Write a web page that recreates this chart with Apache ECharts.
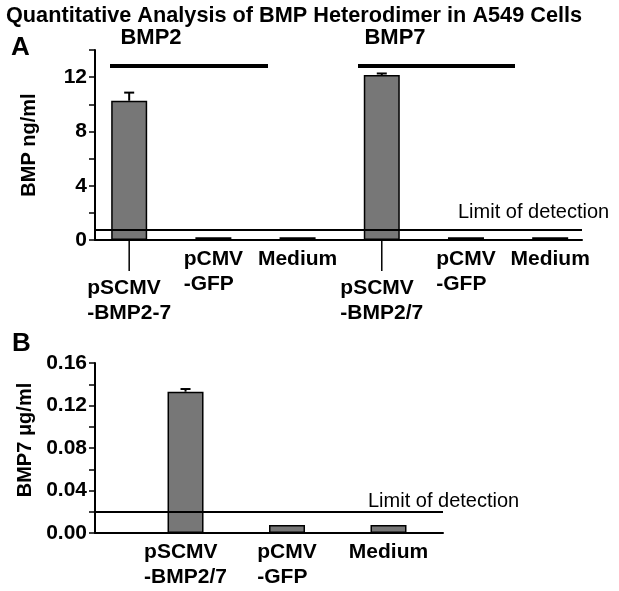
<!DOCTYPE html>
<html><head><meta charset="utf-8">
<script src="https://cdn.jsdelivr.net/npm/echarts@6/dist/echarts.min.js"></script>
<style>html,body{margin:0;padding:0;background:#fff}#c{width:619px;height:591px}</style>
</head><body><div id="c"></div>
<script>
// ---- data ----
const titleText = 'Quantitative Analysis of BMP Heterodimer in A549 Cells';
const catsA = ['pSCMV\n-BMP2-7', 'pCMV\n-GFP', 'Medium', 'pSCMV\n-BMP2/7', 'pCMV\n-GFP', 'Medium'];
const valsA = [10.26, 0.2, 0.2, 12.15, 0.2, 0.2];
const errA = [0.6, 0, 0, 0.12, 0, 0];
const limitA = 0.75;
const ticksA = [0, 4, 8, 12];
const groupsA = ['BMP2', 'BMP7'];

const catsB = ['pSCMV\n-BMP2/7', 'pCMV\n-GFP', 'Medium'];
const valsB = [0.133, 0.0075, 0.0075];
const errB = [0.0025, 0, 0];
const limitB = 0.018;
const ticksB = [0, 0.04, 0.08, 0.12, 0.16];

const FONT = '"Liberation Sans", Arial, Helvetica, sans-serif';
const LABEL_SIZE = 21;
const chart = echarts.init(document.getElementById('c'), null, {renderer: 'canvas'});

const ctx = document.createElement('canvas').getContext('2d');
ctx.font = 'bold ' + LABEL_SIZE + 'px "Liberation Sans"';
function blockWidth(s) { return Math.max(...s.split('\n').map(l => ctx.measureText(l).width)); }

function barData(cats, vals, lowFn) {
  return vals.map((v, i) => ({
    value: [i + 1, v],
    label: {distance: lowFn(i) ? 36 : 7, offset: [-blockWidth(cats[i]) / 2, 0]}
  }));
}
function errSeries(vals, errs, xi) {
  return {
    type: 'custom', xAxisIndex: xi, yAxisIndex: xi, z: 4, silent: true,
    data: vals.map((v, i) => [i + 1, v, errs[i]]),
    renderItem(params, api) {
      const e = api.value(2);
      if (!e) return null;
      const x = api.value(0), y = api.value(1);
      const p0 = api.coord([x, y]), p1 = api.coord([x, y + e]);
      return {type: 'group', children: [
        {type: 'line', shape: {x1: p0[0], y1: p0[1], x2: p1[0], y2: p1[1]}, style: {stroke: '#000', lineWidth: 2}},
        {type: 'line', shape: {x1: p1[0] - 5, y1: p1[1], x2: p1[0] + 5, y2: p1[1]}, style: {stroke: '#000', lineWidth: 2}}
      ]};
    }
  };
}
const isLowA = i => catsA[i].startsWith('pSCMV');

function yAxisCfg(gi, max, interval, ticks, name, fmt, nameGap, namePad) {
  return {
    type: 'value', gridIndex: gi, min: 0, max: max, interval: interval,
    name: name, nameLocation: 'middle', nameRotate: 90, nameGap: nameGap,
    nameTextStyle: {fontFamily: FONT, fontWeight: 'bold', fontSize: 20, color: '#000', padding: namePad},
    axisLine: {show: true, lineStyle: {color: '#000', width: 2}},
    axisTick: {show: true, length: 6, lineStyle: {color: '#000', width: 1.5}},
    splitLine: {show: false},
    axisLabel: {
      fontFamily: FONT, fontWeight: 'bold', fontSize: 21, color: '#000', margin: 8,
      formatter: v => ticks.some(t => Math.abs(t - v) < 1e-9) ? fmt(v) : ''
    }
  };
}
function xAxisCfg(gi, min, max) {
  return {
    type: 'value', gridIndex: gi, min: min, max: max,
    axisLine: {show: true, onZero: false, lineStyle: {color: '#000', width: 2}},
    axisTick: {show: false}, axisLabel: {show: false}, splitLine: {show: false}
  };
}
const barLabel = {
  show: true, position: 'bottom', align: 'left', color: '#000',
  fontFamily: FONT, fontWeight: 'bold', fontSize: LABEL_SIZE, lineHeight: 25
};
const barStyle = {color: '#777777', borderColor: '#000', borderWidth: 1.5};
function limitLine(v) {
  return {symbol: 'none', silent: true, label: {show: false},
          lineStyle: {color: '#000', type: 'solid', width: 2}, data: [{yAxis: v}]};
}

chart.setOption({
  animation: false,
  backgroundColor: '#fff',
  grid: [
    {left: 95, top: 50, width: 487, height: 190},
    {left: 95, top: 363, width: 348, height: 170}
  ],
  xAxis: [xAxisCfg(0, 0.594, 6.378), xAxisCfg(1, 0.108, 3.537)],
  yAxis: [
    yAxisCfg(0, 14, 2, ticksA, 'BMP ng/ml', v => String(v), 56, 0),
    yAxisCfg(1, 0.16, 0.02, ticksB, 'BMP7 \u03bcg/ml', v => v.toFixed(2), 57, [0, 0, 0, 16])
  ],
  series: [
    {type: 'bar', xAxisIndex: 0, yAxisIndex: 0, barWidth: 36, itemStyle: barStyle,
     label: Object.assign({}, barLabel, {formatter: p => catsA[p.dataIndex]}),
     data: barData(catsA, valsA, isLowA), markLine: limitLine(limitA)},
    errSeries(valsA, errA, 0),
    {type: 'custom', xAxisIndex: 0, yAxisIndex: 0, silent: true, clip: false,
     data: catsA.map((c, i) => [i + 1, isLowA(i) ? 1 : 0]),
     renderItem(params, api) {
       if (!api.value(1)) return null;
       const p = api.coord([api.value(0), 0]);
       return {type: 'line', shape: {x1: p[0], y1: p[1], x2: p[0], y2: p[1] + 31},
               style: {stroke: '#000', lineWidth: 1.5}};
     }},
    {type: 'bar', xAxisIndex: 1, yAxisIndex: 1, barWidth: 36, itemStyle: barStyle,
     label: Object.assign({}, barLabel, {formatter: p => catsB[p.dataIndex]}),
     data: barData(catsB, valsB, () => false), markLine: limitLine(limitB)},
    errSeries(valsB, errB, 1)
  ]
});

const yLimA = chart.convertToPixel({gridIndex: 0}, [1, limitA])[1];
const yLimB = chart.convertToPixel({gridIndex: 1}, [1, limitB])[1];
const txt = (x, y, s, size, bold, align) => ({
  type: 'text', x: x, y: y,
  style: {text: s, fill: '#000', font: (bold ? 'bold ' : '') + size + 'px ' + FONT,
          textAlign: align || 'left', textVerticalAlign: 'middle'}
});
chart.setOption({
  graphic: [
    txt(6, 16, titleText, 21.7, true),
    txt(11, 48, 'A', 26, true),
    txt(12, 344, 'B', 26, true),
    txt(151, 38, groupsA[0], 22, true, 'center'),
    txt(395, 38, groupsA[1], 22, true, 'center'),
    {type: 'line', shape: {x1: 110, y1: 66, x2: 268, y2: 66}, style: {stroke: '#000', lineWidth: 4}},
    {type: 'line', shape: {x1: 358, y1: 66, x2: 515, y2: 66}, style: {stroke: '#000', lineWidth: 4}},
    txt(458, yLimA - 17, 'Limit of detection', 20, false),
    txt(368, yLimB - 12, 'Limit of detection', 20, false)
  ]
});
</script></body></html>
